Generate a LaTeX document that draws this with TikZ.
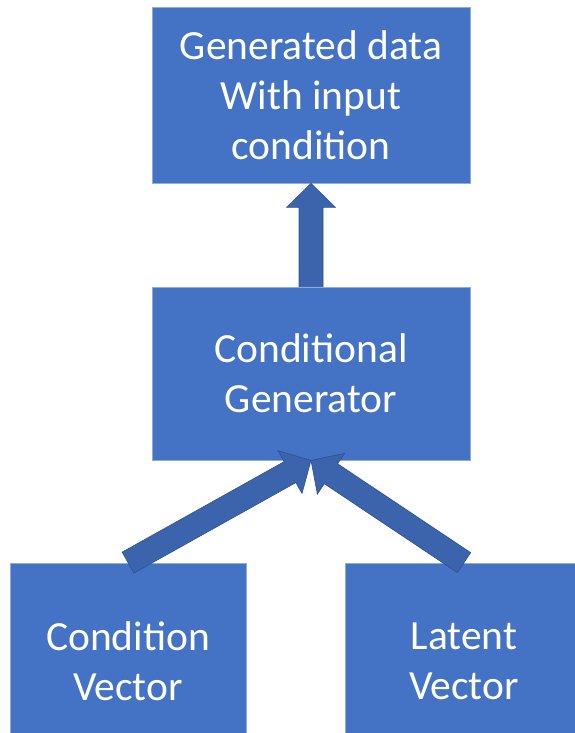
\documentclass[tikz,border=0pt]{standalone}
\usepackage{fontspec}
\setmainfont{Carlito}
\usetikzlibrary{calc}
\definecolor{boxblue}{HTML}{4472C4}
\definecolor{arrowblue}{HTML}{3C64AC}
\definecolor{edgeblue}{HTML}{2F528F}
% wide block arrow: #1 tail, #2 tip, #3 name
\newcommand{\blockarrow}[3]{%
  \coordinate (#3n) at ($(#2)!24pt!(#1)$);
  \draw[blockarrow] ($(#1)!12pt!90:(#2)$) -- ($(#3n)!12pt!90:(#2)$)
    -- ($(#3n)!24.5pt!90:(#2)$) -- (#2) -- ($(#3n)!24.5pt!-90:(#2)$)
    -- ($(#3n)!12pt!-90:(#2)$) -- ($(#1)!12pt!-90:(#2)$) -- cycle;}
\begin{document}
\begin{tikzpicture}[x=1pt,y=-1pt,
  box/.style={draw=boxblue!60!white,line width=0.8pt,fill=boxblue,text=white,
    align=center,inner sep=0pt,font=\fontsize{41.5}{50}\selectfont},
  blockarrow/.style={fill=arrowblue,draw=edgeblue,line width=0.6pt,line join=miter}]
\useasboundingbox (0,0) rectangle (574,733);
\node[box,minimum width=318pt,minimum height=176pt] (gen) at (311,95) {Generated data\\With input\\condition};
\node[box,minimum width=318pt,minimum height=173pt] (cgen) at (311,373.5) {Conditional\\Generator};
\node[box,minimum width=236pt,minimum height=197pt] (cond) at (128,661.5) {Condition\\Vector};
\node[box,minimum width=238pt,minimum height=197pt] (lat) at (464,661.5) {Latent\\Vector};
\blockarrow{cgen.north}{gen.south}{up}
\blockarrow{cond.north}{cgen.south}{left}
\blockarrow{lat.north}{cgen.south}{right}
\end{tikzpicture}
\end{document}
